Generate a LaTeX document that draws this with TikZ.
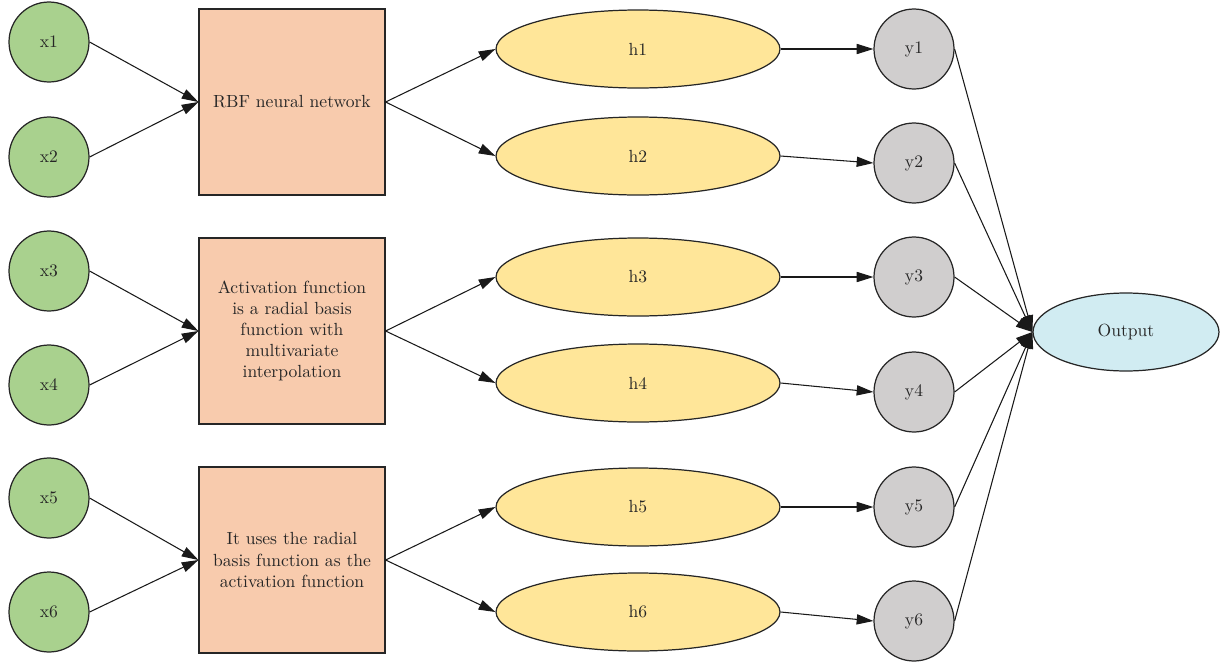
\documentclass[tikz,border=0pt]{standalone}
\usepackage{tikz}
\usetikzlibrary{arrows.meta}
\usetikzlibrary{shapes.geometric}

\definecolor{ingreen}{HTML}{A9D18E}
\definecolor{boxpeach}{HTML}{F8CBAD}
\definecolor{hidyellow}{HTML}{FFE699}
\definecolor{ygrey}{HTML}{D0CECE}
\definecolor{outblue}{HTML}{D1ECF2}

\begin{document}
\begin{tikzpicture}[x=0.02cm,y=-0.02cm,
  every node/.style={draw=black!85,line width=0.7pt,text=black!85},
  inp/.style={circle,fill=ingreen,minimum size=1.6cm,inner sep=0pt},
  rbfbox/.style={rectangle,fill=boxpeach,minimum width=3.72cm,minimum height=3.72cm,align=center,text width=3.3cm},
  hid/.style={ellipse,fill=hidyellow,minimum width=5.68cm,minimum height=1.56cm,inner sep=0pt},
  yout/.style={circle,fill=ygrey,minimum size=1.6cm,inner sep=0pt},
  res/.style={ellipse,fill=outblue,minimum width=3.72cm,minimum height=1.56cm,inner sep=0pt},
  arr/.style={-{Triangle[length=9.5pt,width=5.8pt]},line width=0.6pt,black!90}]
  \useasboundingbox (0,0) rectangle (1221,663);
  % inputs
  \node[inp] (x1) at (49,42) {x1};
  \node[inp] (x2) at (49,157) {x2};
  \node[inp] (x3) at (49,271) {x3};
  \node[inp] (x4) at (49,385) {x4};
  \node[inp] (x5) at (49,498) {x5};
  \node[inp] (x6) at (49,612) {x6};
  % boxes
  \node[rbfbox] (b1) at (292,102) {RBF neural network};
  \node[rbfbox] (b2) at (292,331) {Activation function\\ is a radial basis\\ function with\\ multivariate\\ interpolation};
  \node[rbfbox] (b3) at (292,560) {It uses the radial\\ basis function as the\\ activation function};
  % hidden layer
  \node[hid] (h1) at (638,49) {h1};
  \node[hid] (h2) at (638,156) {h2};
  \node[hid] (h3) at (638,277) {h3};
  \node[hid] (h4) at (638,383) {h4};
  \node[hid] (h5) at (638,507) {h5};
  \node[hid] (h6) at (638,612) {h6};
  % outputs
  \node[yout] (y1) at (914,49) {y1};
  \node[yout] (y2) at (914,163) {y2};
  \node[yout] (y3) at (914,277) {y3};
  \node[yout] (y4) at (914,392) {y4};
  \node[yout] (y5) at (914,507) {y5};
  \node[yout] (y6) at (914,621) {y6};
  \node[res] (out) at (1126,332) {Output};
  % connections
  \draw[arr] (x1.east)--(b1.west);
  \draw[arr] (x2.east)--(b1.west);
  \draw[arr] (x3.east)--(b2.west);
  \draw[arr] (x4.east)--(b2.west);
  \draw[arr] (x5.east)--(b3.west);
  \draw[arr] (x6.east)--(b3.west);
  \draw[arr] (b1.east)--(h1.west);
  \draw[arr] (b1.east)--(h2.west);
  \draw[arr] (b2.east)--(h3.west);
  \draw[arr] (b2.east)--(h4.west);
  \draw[arr] (b3.east)--(h5.west);
  \draw[arr] (b3.east)--(h6.west);
  \draw[arr] (h1.east)--(y1.west);
  \draw[arr] (h2.east)--(y2.west);
  \draw[arr] (h3.east)--(y3.west);
  \draw[arr] (h4.east)--(y4.west);
  \draw[arr] (h5.east)--(y5.west);
  \draw[arr] (h6.east)--(y6.west);
  \draw[arr] (y1.east)--(out.west);
  \draw[arr] (y2.east)--(out.west);
  \draw[arr] (y3.east)--(out.west);
  \draw[arr] (y4.east)--(out.west);
  \draw[arr] (y5.east)--(out.west);
  \draw[arr] (y6.east)--(out.west);
\end{tikzpicture}
\end{document}
